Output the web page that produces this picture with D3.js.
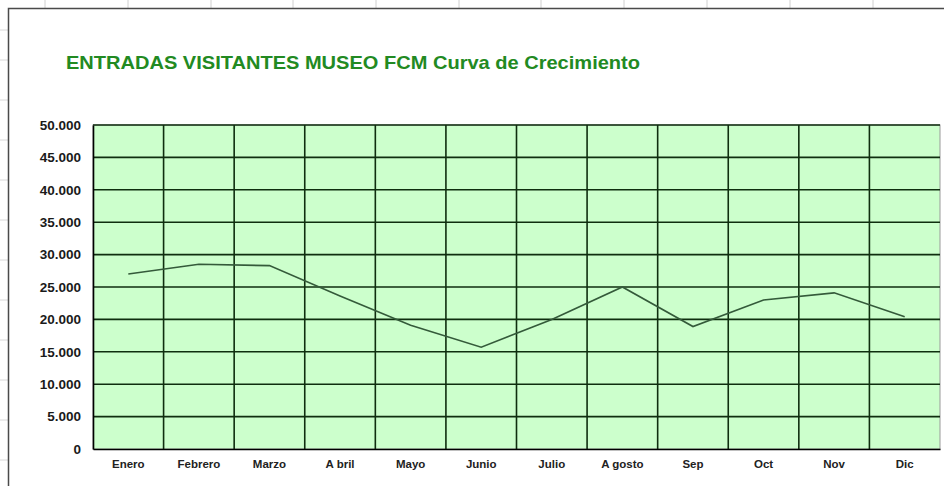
<!DOCTYPE html>
<html><head><meta charset="utf-8">
<script src="https://cdn.jsdelivr.net/npm/d3@7"></script>
<style>html,body{margin:0;padding:0;background:#fff;}svg{display:block;}</style>
</head><body>
<script>
const title = "ENTRADAS  VISITANTES  MUSEO FCM Curva de Crecimiento";
const months = ["Enero","Febrero","Marzo","A bril","Mayo","Junio","Julio","A gosto","Sep","Oct","Nov","Dic"];
const visitors = [27000,28500,28300,23600,19100,15700,20000,25000,18900,23000,24100,20400];
const yTicks = [0,5000,10000,15000,20000,25000,30000,35000,40000,45000,50000];

(function(){
const W = 944, H = 486;
const svg = d3.select("body").append("svg").attr("width", W).attr("height", H);

// spreadsheet background cells
const sheetCols = [45,128,211,293,376,459,541,624,707,790,873];
svg.selectAll("line.cell").data(sheetCols).enter().append("line")
  .attr("x1", d=>d).attr("x2", d=>d).attr("y1", 0).attr("y2", 8)
  .attr("stroke", "#d0d0d0").attr("stroke-width", 1);
const sheetRows = [30,60,100,140,180,220,260,300,340,380,420,460];
svg.selectAll("line.row").data(sheetRows).enter().append("line")
  .attr("x1", 0).attr("x2", 8).attr("y1", d=>d).attr("y2", d=>d)
  .attr("stroke", "#d8d8d8").attr("stroke-width", 1);

// chart frame
svg.append("rect").attr("x", 8.5).attr("y", 8.5).attr("width", W).attr("height", H)
  .attr("fill", "#fff").attr("stroke", "#4a4a4a").attr("stroke-width", 1.5);

// title
svg.append("text").attr("x", 66).attr("y", 69)
  .attr("font-family", "Arial, 'Liberation Sans', sans-serif").attr("font-weight", "bold")
  .attr("font-size", 18.5).attr("fill", "#228a22")
  .attr("textLength", 574).attr("lengthAdjust", "spacingAndGlyphs")
  .style("white-space", "pre")
  .text(title.replace(/  /g, " "));

const pl = 93, pr = 940, pt = 125, pb = 449;
const x = d3.scaleBand().domain(months).range([pl, pr]).padding(0);
const y = d3.scaleLinear().domain([0, 50000]).range([pb, pt]);

// plot background
svg.append("rect").attr("x", pl).attr("y", pt).attr("width", pr-pl).attr("height", pb-pt)
  .attr("fill", "#ccffcc").attr("stroke", "#9a9a9a").attr("stroke-width", 1);

const gridColor = "#0f2e0f";
svg.append("g").selectAll("line").data(yTicks.filter(d=>d>0)).enter().append("line")
  .attr("x1", pl).attr("x2", pr).attr("y1", d=>y(d)).attr("y2", d=>y(d))
  .attr("stroke", gridColor).attr("stroke-width", 1.6);
svg.append("g").selectAll("line").data(months.slice(1)).enter().append("line")
  .attr("x1", d=>x(d)).attr("x2", d=>x(d)).attr("y1", pt).attr("y2", pb)
  .attr("stroke", gridColor).attr("stroke-width", 1.6);

const fmt = d => d === 0 ? "0" : d3.format(",")(d).replace(/,/g, ".");
const yAxis = svg.append("g").attr("transform", `translate(${pl},0)`)
  .call(d3.axisLeft(y).tickValues(yTicks).tickFormat(fmt).tickSize(0).tickPadding(12));
yAxis.select(".domain").attr("stroke", "#000").attr("stroke-width", 1.6);
yAxis.selectAll("text").attr("font-family", "Arial, 'Liberation Sans', sans-serif")
  .attr("font-weight", "bold").attr("font-size", 13.5).attr("fill", "#1a1a1a");

const xAxis = svg.append("g").attr("transform", `translate(0,${pb})`)
  .call(d3.axisBottom(x).tickSize(0).tickPadding(11));
xAxis.select(".domain").attr("stroke", "#000").attr("stroke-width", 1.6);
xAxis.selectAll("text").attr("font-family", "Arial, 'Liberation Sans', sans-serif")
  .attr("font-weight", "bold").attr("font-size", 11.5).attr("fill", "#222")
  .style("white-space", "pre");

const line = d3.line().x((d,i)=>x(months[i]) + x.bandwidth()/2).y(d=>y(d));
svg.append("path").datum(visitors).attr("d", line)
  .attr("fill", "none").attr("stroke", "#345a3a").attr("stroke-width", 1.6);
})();
</script>
</body></html>
